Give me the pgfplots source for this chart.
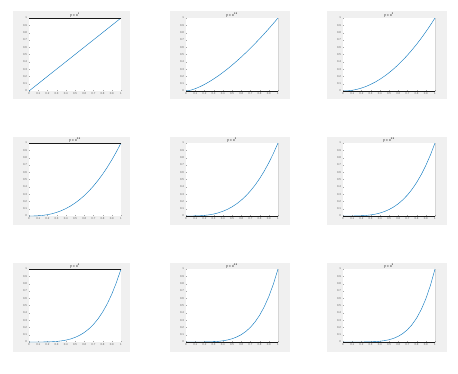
\documentclass[border=0pt]{standalone}
\usepackage{fontspec}
\setmainfont{Liberation Sans}
\usepackage{pgfplots}
\pgfplotsset{compat=1.18}
\definecolor{mblue}{HTML}{0072BD}
\definecolor{mgray}{HTML}{F0F0F0}
\newcommand{\tinyf}{\fontsize{2.8}{3}\selectfont}
\pgfplotsset{
  panel/.style={
    scale only axis, width=92pt, height=73pt, anchor=south west,
    xmin=0, xmax=1, ymin=0, ymax=1,
    xtick={0,0.1,...,1.01}, ytick={0,0.1,...,1.01},
    axis background/.style={fill=white},
    axis line style={draw=none},
    tick pos=left, tick align=inside,
    major tick length=0.8pt, tick style={black!35, line width=0.2pt},
    tick label style={font=\tinyf, text=black!65},
    /pgf/number format/assume math mode=true,
    /pgf/number format/fixed, /pgf/number format/precision=1,
    xticklabel style={yshift=1.5pt}, yticklabel style={xshift=1.5pt},
    title style={at={(0.5,1)}, anchor=south, font=\fontsize{3.6}{3.8}\selectfont, yshift=-6.2pt, inner sep=0.5pt},
    cycle list={{mblue, line width=0.6pt, mark=none}},
  },
  leftpanel/.style={panel, execute at end axis={\draw[black!90, line width=1pt] (rel axis cs:0,1) -- (rel axis cs:1,1);}},
  rightpanel/.style={panel, execute at end axis={\draw[black!90, line width=1pt] (rel axis cs:0,0) -- (rel axis cs:1,0) -- (rel axis cs:1,1);}},
}
\begin{document}
\begin{tikzpicture}[x=1pt,y=1pt]
\fill[white] (0,0) rectangle (458,373);
\path[use as bounding box] (0,0) rectangle (458,373);
% gray panels
\foreach \gx/\gw in {13/117,170/120,327/120}{
  \foreach \gy/\gh in {274/88,148/88,21/89}{
    \fill[mgray] (\gx,\gy) rectangle ++(\gw,\gh);
  }
}
% Row 1
\begin{axis}[leftpanel, at={(29pt,282pt)}, title={y = x\textsuperscript{1}}]
\addplot coordinates {(0,0) (0.5,0.5) (1,1)};
\end{axis}
\begin{axis}[rightpanel, at={(186pt,282pt)}, title={y = x\textsuperscript{1.5}}]
\addplot coordinates {(0,0) (0.05,0.0112) (0.1,0.0316) (0.15,0.0581) (0.2,0.0894) (0.25,0.125) (0.3,0.1643) (0.35,0.2071) (0.4,0.2530) (0.45,0.3019) (0.5,0.3536) (0.55,0.4079) (0.6,0.4648) (0.65,0.5240) (0.7,0.5857) (0.75,0.6495) (0.8,0.7155) (0.85,0.7837) (0.9,0.8538) (0.95,0.9259) (1,1)};
\end{axis}
\begin{axis}[rightpanel, at={(343pt,282pt)}, title={y = x\textsuperscript{2}}]
\addplot coordinates {(0,0) (0.05,0.0025) (0.1,0.01) (0.15,0.0225) (0.2,0.04) (0.25,0.0625) (0.3,0.09) (0.35,0.1225) (0.4,0.16) (0.45,0.2025) (0.5,0.25) (0.55,0.3025) (0.6,0.36) (0.65,0.4225) (0.7,0.49) (0.75,0.5625) (0.8,0.64) (0.85,0.7225) (0.9,0.81) (0.95,0.9025) (1,1)};
\end{axis}
% Row 2
\begin{axis}[leftpanel, at={(29pt,157pt)}, title={y = x\textsuperscript{2.5}}]
\addplot coordinates {(0,0) (0.05,0.00056) (0.1,0.00316) (0.15,0.00871) (0.2,0.01789) (0.25,0.03125) (0.3,0.0493) (0.35,0.07247) (0.4,0.1012) (0.45,0.1358) (0.5,0.1768) (0.55,0.2243) (0.6,0.2789) (0.65,0.3406) (0.7,0.4100) (0.75,0.4871) (0.8,0.5724) (0.85,0.6661) (0.9,0.7684) (0.95,0.8797) (1,1)};
\end{axis}
\begin{axis}[rightpanel, at={(186pt,157pt)}, title={y = x\textsuperscript{3}}]
\addplot coordinates {(0,0) (0.05,0.000125) (0.1,0.001) (0.15,0.003375) (0.2,0.008) (0.25,0.015625) (0.3,0.027) (0.35,0.042875) (0.4,0.064) (0.45,0.091125) (0.5,0.125) (0.55,0.166375) (0.6,0.216) (0.65,0.274625) (0.7,0.343) (0.75,0.421875) (0.8,0.512) (0.85,0.614125) (0.9,0.729) (0.95,0.857375) (1,1)};
\end{axis}
\begin{axis}[rightpanel, at={(343pt,157pt)}, title={y = x\textsuperscript{3.5}}]
\addplot coordinates {(0,0) (0.05,0.000028) (0.1,0.000316) (0.15,0.001307) (0.2,0.003578) (0.25,0.007813) (0.3,0.01479) (0.35,0.02536) (0.4,0.04048) (0.45,0.06113) (0.5,0.08839) (0.55,0.1234) (0.6,0.1673) (0.65,0.2214) (0.7,0.2870) (0.75,0.3654) (0.8,0.4579) (0.85,0.5662) (0.9,0.6916) (0.95,0.8357) (1,1)};
\end{axis}
% Row 3
\begin{axis}[leftpanel, at={(29pt,31pt)}, title={y = x\textsuperscript{4}}]
\addplot coordinates {(0,0) (0.05,0.00000625) (0.1,0.0001) (0.15,0.000506) (0.2,0.0016) (0.25,0.003906) (0.3,0.0081) (0.35,0.015006) (0.4,0.0256) (0.45,0.041006) (0.5,0.0625) (0.55,0.091506) (0.6,0.1296) (0.65,0.178506) (0.7,0.2401) (0.75,0.316406) (0.8,0.4096) (0.85,0.522006) (0.9,0.6561) (0.95,0.814506) (1,1)};
\end{axis}
\begin{axis}[rightpanel, at={(186pt,31pt)}, title={y = x\textsuperscript{4.5}}]
\addplot coordinates {(0,0) (0.05,0.0000014) (0.1,0.0000316) (0.15,0.000196) (0.2,0.000716) (0.25,0.001953) (0.3,0.004437) (0.35,0.008878) (0.4,0.01619) (0.45,0.02751) (0.5,0.04419) (0.55,0.06786) (0.6,0.1004) (0.65,0.1439) (0.7,0.2009) (0.75,0.2740) (0.8,0.3664) (0.85,0.4813) (0.9,0.6224) (0.95,0.7939) (1,1)};
\end{axis}
\begin{axis}[rightpanel, at={(343pt,31pt)}, title={y = x\textsuperscript{5}}]
\addplot coordinates {(0,0) (0.05,0.0000003) (0.1,0.00001) (0.15,0.0000759) (0.2,0.00032) (0.25,0.000977) (0.3,0.00243) (0.35,0.005252) (0.4,0.01024) (0.45,0.018453) (0.5,0.03125) (0.55,0.050328) (0.6,0.07776) (0.65,0.116029) (0.7,0.16807) (0.75,0.237305) (0.8,0.32768) (0.85,0.443705) (0.9,0.59049) (0.95,0.773781) (1,1)};
\end{axis}
\end{tikzpicture}
\end{document}
